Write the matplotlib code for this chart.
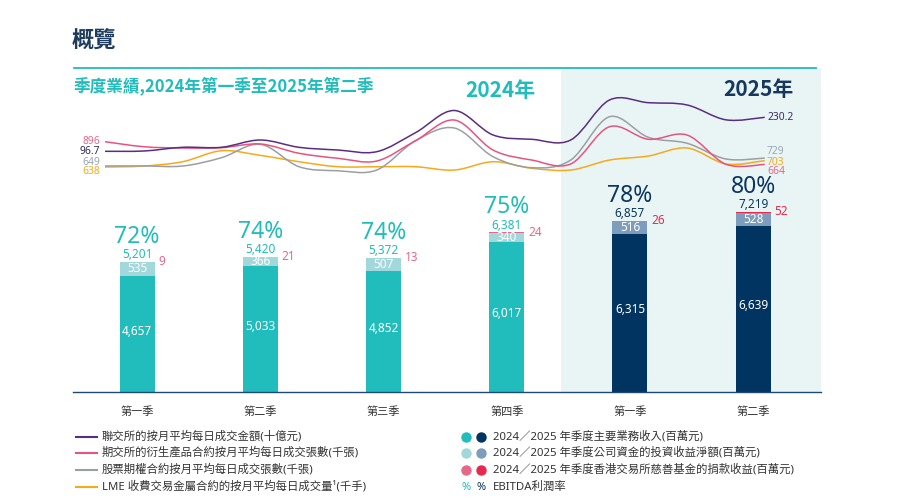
import matplotlib
matplotlib.use("Agg")
import matplotlib.pyplot as plt
import numpy as np
from matplotlib.path import Path
from matplotlib.patches import PathPatch
from matplotlib.lines import Line2D

plt.rcParams['font.family'] = ['Noto Sans', 'Noto Sans CJK TC', 'DejaVu Sans']
BOLD_FAM = ['Noto Sans CJK TC', 'DejaVu Sans']

#Quarterly results, Q1 2024 to Q2 2025
quarters = ["第一季", "第二季", "第三季", "第四季", "第一季", "第二季"]
main_rev = [4657, 5033, 4852, 6017, 6315, 6639]
invest = [535, 366, 507, 340, 516, 528]
donation = [9, 21, 13, 24, 26, 52]
totals = [5201, 5420, 5372, 6381, 6857, 7219]
ebitda = [72, 74, 74, 75, 78, 80]
is_2025 = [False, False, False, False, True, True]

#Monthly averages, Jan 2024 to Jun 2025
adt_sehk = [96.7, 97.9, 112.4, 112.4, 141.1, 112.4, 101.8, 95.1, 169.8, 257.0,
            160.8, 143.9, 141.1, 298.3, 287.7, 278.7, 220.4, 230.2]
adv_deriv = [896, 845, 832, 835, 873, 778, 727, 699, 906, 1117,
             811, 709, 669, 1049, 921, 964, 666, 664]
adv_options = [649, 649, 648, 733, 870, 641, 600, 607, 906, 1036,
               743, 631, 709, 1151, 941, 880, 720, 729]
adv_lme = [638, 648, 692, 804, 757, 692, 641, 641, 641, 607,
           692, 625, 607, 709, 750, 832, 669, 703]

legend_lines = ["聯交所的按月平均每日成交金額(十億元)",
                "期交所的衍生產品合約按月平均每日成交張數(千張)",
                "股票期權合約按月平均每日成交張數(千張)",
                "LME 收費交易金屬合約的按月平均每日成交量¹(千手)"]
legend_bars = ["2024／2025 年季度主要業務收入(百萬元)",
               "2024／2025 年季度公司資金的投資收益淨額(百萬元)",
               "2024／2025 年季度香港交易所慈善基金的捐款收益(百萬元)",
               "EBITDA利潤率"]

TEAL = "#21bcbc"
TEAL_LIGHT = "#a2d8db"
PINK = "#e5688a"
NAVY = "#0b365f"
NAVY_BAR = "#013461"
NAVY_LIGHT = "#7e9dbd"
RED = "#e8294d"
SHADE = "#e9f5f5"
C_PURPLE = "#5a2d82"
C_PINK = "#e75480"
C_GRAY = "#9b9fa4"
C_ORANGE = "#f6a91b"
TXT = "#333333"

W, H = 900, 500


def fx(x):
    return x / W


def fy(y):
    return 1 - y / H


fig = plt.figure(figsize=(9, 5), dpi=100)

#Bars axes, pixel span 73..821 horizontally, 68..392 vertically
rect = [fx(73), fy(392), fx(821) - fx(73), fy(68) - fy(392)]
ax = fig.add_axes(rect)
ax.set_xlim(-0.52, 5.55)
ax.set_ylim(0, 12960)
ax.axvspan(3.44, 5.55, color=SHADE, lw=0, zorder=0)

x = np.arange(len(quarters))
bw = 0.284
c_main = [NAVY_BAR if f else TEAL for f in is_2025]
c_inv = [NAVY_LIGHT if f else TEAL_LIGHT for f in is_2025]
c_don = [RED if f else PINK for f in is_2025]
c_txt = [NAVY if f else TEAL for f in is_2025]
base2 = np.array(main_rev) + np.array(invest)
ax.bar(x, main_rev, width=bw, color=c_main, zorder=2)
ax.bar(x, invest, width=bw, bottom=main_rev, color=c_inv, zorder=2)
ax.bar(x, donation, width=bw, bottom=base2, color=c_don, zorder=2)

for i in range(len(x)):
    ax.text(x[i], main_rev[i] * 0.52, f"{main_rev[i]:,}", color="white",
            ha="center", va="center", fontsize=8.5, zorder=3)
    ax.text(x[i], main_rev[i] + invest[i] / 2, f"{invest[i]:,}", color="white",
            ha="center", va="center", fontsize=8.5, zorder=3)
    ax.annotate(f"{totals[i]:,}", (x[i], totals[i]), xytext=(0, 7),
                textcoords="offset pixels", ha="center", va="center",
                fontsize=8.5, color=c_txt[i])
    ax.annotate(f"{ebitda[i]}%", (x[i], totals[i]), xytext=(0, 25),
                textcoords="offset pixels", ha="center", va="center",
                fontsize=16.5, color=c_txt[i])
    ax.annotate(f"{donation[i]}", (x[i] + bw / 2, totals[i]), xytext=(4, 0),
                textcoords="offset pixels", ha="left", va="center",
                fontsize=8.5, color=c_don[i])

ax.set_xticks(x)
ax.set_xticklabels(quarters, fontsize=8, color=TXT)
ax.tick_params(axis="x", length=0, pad=11)
ax.set_yticks([])
for s in ["top", "left", "right"]:
    ax.spines[s].set_visible(False)
ax.spines["bottom"].set_color("#1d4a6e")
ax.spines["bottom"].set_linewidth(1.0)
ax.patch.set_visible(False)


#Smooth curve through monthly points, drawn as a bezier path
def smooth_path(xs, ys):
    pts = np.column_stack([xs, ys]).astype(float)
    verts = [pts[0]]
    codes = [Path.MOVETO]
    n = len(pts)
    for k in range(n - 1):
        p0 = pts[max(k - 1, 0)]
        p1 = pts[k]
        p2 = pts[k + 1]
        p3 = pts[min(k + 2, n - 1)]
        verts += [p1 + (p2 - p0) / 6, p2 - (p3 - p1) / 6, p2]
        codes += [Path.CURVE4] * 3
    return Path(verts, codes)


months = np.arange(len(adt_sehk))
ax_l = fig.add_axes(rect)
ax_l.set_xlim(-0.825, 18.45)
ax_l.set_ylim(-1657, 1648)
ax_l.set_axis_off()
ax_p = fig.add_axes(rect)
ax_p.set_xlim(-0.825, 18.45)
ax_p.set_ylim(-849, 424)
ax_p.set_axis_off()

for a, vals, col in [(ax_l, adv_lme, C_ORANGE), (ax_l, adv_options, C_GRAY),
                     (ax_l, adv_deriv, C_PINK), (ax_p, adt_sehk, C_PURPLE)]:
    a.add_patch(PathPatch(smooth_path(months, vals), fill=False,
                          edgecolor=col, lw=1.1))

#Start and end value labels
fs_end = 7.4
fig.text(fx(100), fy(142), f"{adv_deriv[0]:,}", color=PINK, ha="right", va="center", fontsize=fs_end)
fig.text(fx(100), fy(152), f"{adt_sehk[0]}", color="#2d2a5a", ha="right", va="center", fontsize=fs_end)
fig.text(fx(100), fy(162), f"{adv_options[0]:,}", color="#9aa6b5", ha="right", va="center", fontsize=fs_end)
fig.text(fx(100), fy(172), f"{adv_lme[0]:,}", color=C_ORANGE, ha="right", va="center", fontsize=fs_end)
fig.text(fx(767), fy(118), f"{adt_sehk[-1]}", color="#3c2a6a", ha="left", va="center", fontsize=fs_end)
fig.text(fx(767), fy(152), f"{adv_options[-1]:,}", color="#9aa6b5", ha="left", va="center", fontsize=fs_end)
fig.text(fx(767), fy(162), f"{adv_lme[-1]:,}", color=C_ORANGE, ha="left", va="center", fontsize=fs_end)
fig.text(fx(767), fy(172), f"{adv_deriv[-1]:,}", color=PINK, ha="left", va="center", fontsize=fs_end)

#Titles
fig.text(fx(72), fy(41), "概覽", color="#1d3c5e", fontsize=16, fontweight="bold",
         ha="left", va="center", family=BOLD_FAM)
fig.add_artist(Line2D([fx(74), fx(816)], [fy(68), fy(68)], color=TEAL, lw=1.3))
fig.text(fx(74), fy(86), "季度業績,2024年第一季至2025年第二季", color=TEAL,
         fontsize=12, fontweight="bold", ha="left", va="center", family=BOLD_FAM)
fig.text(fx(465), fy(91), "2024年", color=TEAL, fontsize=15, fontweight="bold",
         ha="left", va="center", family=BOLD_FAM)
fig.text(fx(723), fy(90), "2025年", color="#16375e", fontsize=15, fontweight="bold",
         ha="left", va="center", family=BOLD_FAM)

#Legend, left column lines
rows = [437, 453, 470, 487]
for r, lab, col in zip(rows, legend_lines, [C_PURPLE, C_PINK, C_GRAY, C_ORANGE]):
    fig.add_artist(Line2D([fx(76), fx(97)], [fy(r), fy(r)], color=col, lw=1.5))
    fig.text(fx(102), fy(r), lab, color=TXT, fontsize=8.2, ha="left", va="center")

#Legend, right column dots
dot_cols = [(TEAL, NAVY_BAR), (TEAL_LIGHT, NAVY_LIGHT), (PINK, RED)]
for r, lab, (c1, c2) in zip(rows[:3], legend_bars[:3], dot_cols):
    fig.add_artist(Line2D([fx(466)], [fy(r)], marker="o", ms=6.5, color=c1, lw=0))
    fig.add_artist(Line2D([fx(481)], [fy(r)], marker="o", ms=6.5, color=c2, lw=0))
    fig.text(fx(493), fy(r), lab, color=TXT, fontsize=8.2, ha="left", va="center")
fig.text(fx(466), fy(rows[3]), "%", color=TEAL, fontsize=8, ha="center", va="center")
fig.text(fx(481), fy(rows[3]), "%", color=NAVY, fontsize=8, ha="center", va="center")
fig.text(fx(493), fy(rows[3]), legend_bars[3], color=TXT, fontsize=8.2, ha="left", va="center")

fig.savefig("out.png", dpi=100)
